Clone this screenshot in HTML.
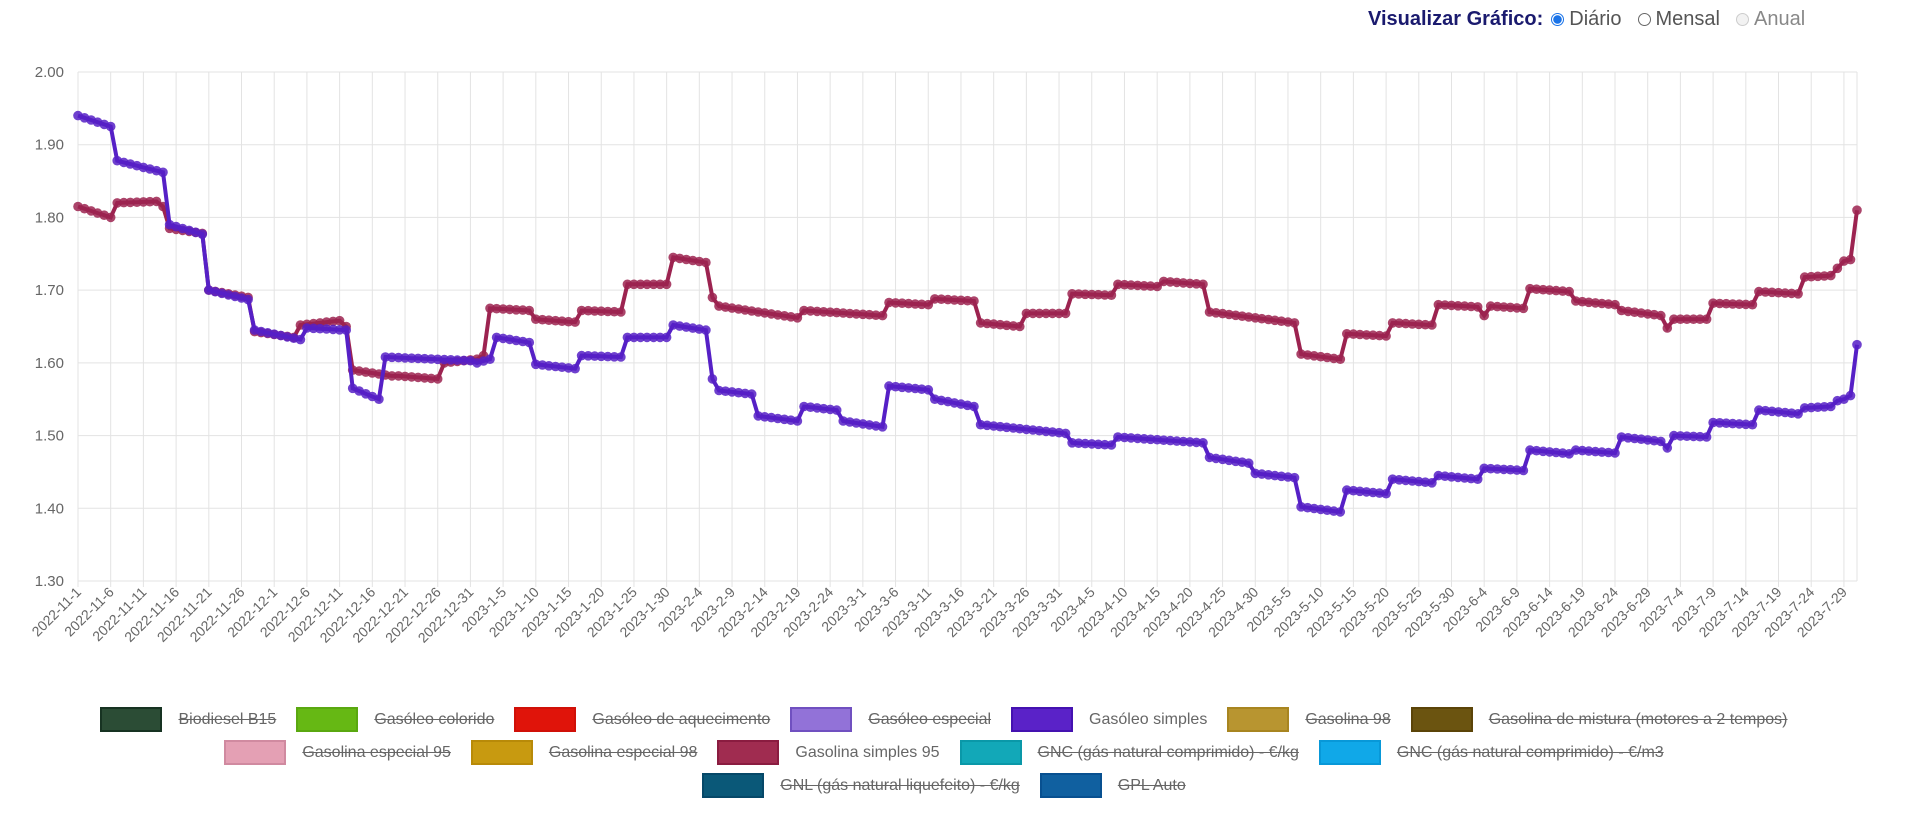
<!DOCTYPE html>
<html><head><meta charset="utf-8">
<style>
html,body{margin:0;padding:0;background:#fff;width:1920px;height:814px;overflow:hidden;font-family:"Liberation Sans",Arial,sans-serif;}
#hdr{position:absolute;top:8px;left:1368px;font-size:20px;color:#555;white-space:nowrap;}
#hdr b{color:#1a1a6e;}
.rad{display:inline-block;width:13px;height:13px;border-radius:50%;border:1px solid #666;vertical-align:-1px;margin:0 5px 0 8px;box-sizing:border-box;}
.rad.on{border:1px solid #1a73e8;background:radial-gradient(circle,#1a73e8 0 4px,#fff 4.5px);}
.rad.dis{border-color:#ccc;background:#f2f2f2}
#legend{position:absolute;left:0;top:707px;width:1888px;font-size:16px;color:#666;}
.row{display:flex;justify-content:center;height:33px;align-items:flex-start}
.it{display:flex;align-items:center;margin:0 10px;}
.bx{width:58px;height:21px;border:2px solid;margin-right:16px;}
.off{text-decoration:line-through;}
svg{position:absolute;left:0;top:0}
</style></head><body>
<div id="hdr"><b>Visualizar Gráfico:</b><span class="rad on"></span>Diário<span class="rad" style="margin-left:16px"></span>Mensal<span class="rad dis" style="margin-left:16px"></span><span style="color:#888">Anual</span></div>
<svg id="c" width="1920" height="700" xmlns="http://www.w3.org/2000/svg"></svg>
<div id="legend">
<div class="row">
<div class="it"><span class="bx" style="background:#2b4c35;border-color:#173322"></span><span class="off">Biodiesel B15</span></div>
<div class="it"><span class="bx" style="background:#66b814;border-color:#5aa810"></span><span class="off">Gasóleo colorido</span></div>
<div class="it"><span class="bx" style="background:#e0140a;border-color:#d01008"></span><span class="off">Gasóleo de aquecimento</span></div>
<div class="it"><span class="bx" style="background:#9272d8;border-color:#7050c0"></span><span class="off">Gasóleo especial</span></div>
<div class="it"><span class="bx" style="background:#5a22c8;border-color:#4412b0"></span><span>Gasóleo simples</span></div>
<div class="it"><span class="bx" style="background:#b89530;border-color:#a88520"></span><span class="off">Gasolina 98</span></div>
<div class="it"><span class="bx" style="background:#6b5410;border-color:#5b4408"></span><span class="off">Gasolina de mistura (motores a 2 tempos)</span></div>
</div>
<div class="row">
<div class="it"><span class="bx" style="background:#e4a0b4;border-color:#d08aa0"></span><span class="off">Gasolina especial 95</span></div>
<div class="it"><span class="bx" style="background:#c89a10;border-color:#b88a08"></span><span class="off">Gasolina especial 98</span></div>
<div class="it"><span class="bx" style="background:#a02c50;border-color:#8a1c40"></span><span>Gasolina simples 95</span></div>
<div class="it"><span class="bx" style="background:#12a8b8;border-color:#0a98a8"></span><span class="off">GNC (gás natural comprimido) - €/kg</span></div>
<div class="it"><span class="bx" style="background:#10a8e8;border-color:#0898d8"></span><span class="off">GNC (gás natural comprimido) - €/m3</span></div>
</div>
<div class="row">
<div class="it"><span class="bx" style="background:#0a5878;border-color:#064868"></span><span class="off">GNL (gás natural liquefeito) - €/kg</span></div>
<div class="it"><span class="bx" style="background:#1060a0;border-color:#085090"></span><span class="off">GPL Auto</span></div>
</div>
</div>
<script>
var L=78,R=1857,T=72,B=581,N=272;
function X(d){return L+(R-L)*d/N;}
function Y(v){return T+(2.0-v)*(B-T)/0.7;}
var s='';
for(var i=0;i<=7;i++){var v=2.0-i*0.1,y=Y(v);
 s+='<line x1="'+L+'" x2="'+R+'" y1="'+y+'" y2="'+y+'" stroke="#e3e3e3" stroke-width="1"/>';
 s+='<text x="64" y="'+(y+5)+'" text-anchor="end" font-size="15" fill="#666" font-family="Liberation Sans,Arial,sans-serif">'+v.toFixed(2)+'</text>';}
var start=new Date(2022,10,1);
for(var d=0;d<=270;d+=5){var x=X(d);
 s+='<line x1="'+x+'" x2="'+x+'" y1="'+T+'" y2="'+(B+6)+'" stroke="#e3e3e3" stroke-width="1"/>';
 var dt=new Date(start.getTime()+d*86400000+3600000*12);
 var lab=dt.getFullYear()+'-'+(dt.getMonth()+1)+'-'+dt.getDate();
 s+='<text transform="translate('+(x+4)+','+(B+12)+') rotate(-45)" text-anchor="end" font-size="14" fill="#666" font-family="Liberation Sans,Arial,sans-serif">'+lab+'</text>';}
s+='<line x1="'+R+'" x2="'+R+'" y1="'+T+'" y2="'+B+'" stroke="#e3e3e3"/>';
function build(seg){var a=[];for(var k=0;k<seg.length;k++){var s0=seg[k][0],e=(k+1<seg.length?seg[k+1][0]:N+1);
 for(var d=s0;d<e;d++){var t=(e-1>s0)?(d-s0)/(e-1-s0):0;a.push(seg[k][1]+(seg[k][2]-seg[k][1])*t);}}return a;}
var blue=build([[0,1.94,1.925],[6,1.878,1.862],[14,1.79,1.777],[20,1.70,1.687],[27,1.645,1.632],[35,1.648,1.645],[42,1.565,1.55],[47,1.608,1.603],[61,1.60,1.605],[64,1.635,1.628],[70,1.598,1.592],[77,1.61,1.608],[84,1.635,1.635],[91,1.652,1.645],[97,1.578,1.578],[98,1.562,1.557],[104,1.527,1.52],[111,1.54,1.535],[117,1.52,1.512],[124,1.568,1.563],[131,1.55,1.54],[138,1.515,1.503],[152,1.49,1.487],[159,1.498,1.49],[173,1.47,1.462],[180,1.448,1.442],[187,1.402,1.395],[194,1.425,1.42],[201,1.44,1.435],[208,1.445,1.44],[215,1.455,1.452],[222,1.48,1.475],[229,1.48,1.476],[236,1.498,1.492],[243,1.483,1.483],[244,1.5,1.498],[250,1.518,1.515],[257,1.535,1.53],[264,1.538,1.54],[269,1.548,1.548],[270,1.55,1.555],[272,1.625,1.625]]);
var red=build([[0,1.815,1.80],[6,1.82,1.822],[13,1.815,1.815],[14,1.785,1.778],[20,1.70,1.69],[27,1.643,1.635],[34,1.652,1.658],[41,1.65,1.65],[42,1.59,1.582],[49,1.582,1.578],[56,1.60,1.605],[62,1.61,1.61],[63,1.675,1.672],[70,1.66,1.656],[77,1.672,1.67],[84,1.708,1.708],[91,1.745,1.738],[97,1.69,1.69],[98,1.678,1.662],[111,1.672,1.665],[124,1.683,1.68],[131,1.688,1.685],[138,1.655,1.65],[145,1.668,1.668],[152,1.695,1.693],[159,1.708,1.705],[166,1.712,1.708],[173,1.67,1.655],[187,1.612,1.605],[194,1.64,1.637],[201,1.655,1.652],[208,1.68,1.677],[215,1.665,1.665],[216,1.678,1.675],[222,1.702,1.698],[229,1.685,1.68],[236,1.672,1.665],[243,1.648,1.648],[244,1.66,1.66],[250,1.682,1.68],[257,1.698,1.695],[264,1.718,1.72],[269,1.73,1.74],[271,1.742,1.742],[272,1.81,1.81]]);
function draw(arr,col){var p='',c='';for(var d=0;d<arr.length;d++){var x=X(d).toFixed(1),y=Y(arr[d]).toFixed(1);p+=x+','+y+' ';c+='<circle cx="'+x+'" cy="'+y+'" r="4.8" fill="'+col+'" fill-opacity="0.85"/>';}
 return '<polyline points="'+p+'" fill="none" stroke="'+col+'" stroke-width="4"/>'+c;}
s+=draw(red,'#9c2350');
s+=draw(blue,'#5620c6');
document.getElementById('c').innerHTML=s;
</script>
</body></html>
